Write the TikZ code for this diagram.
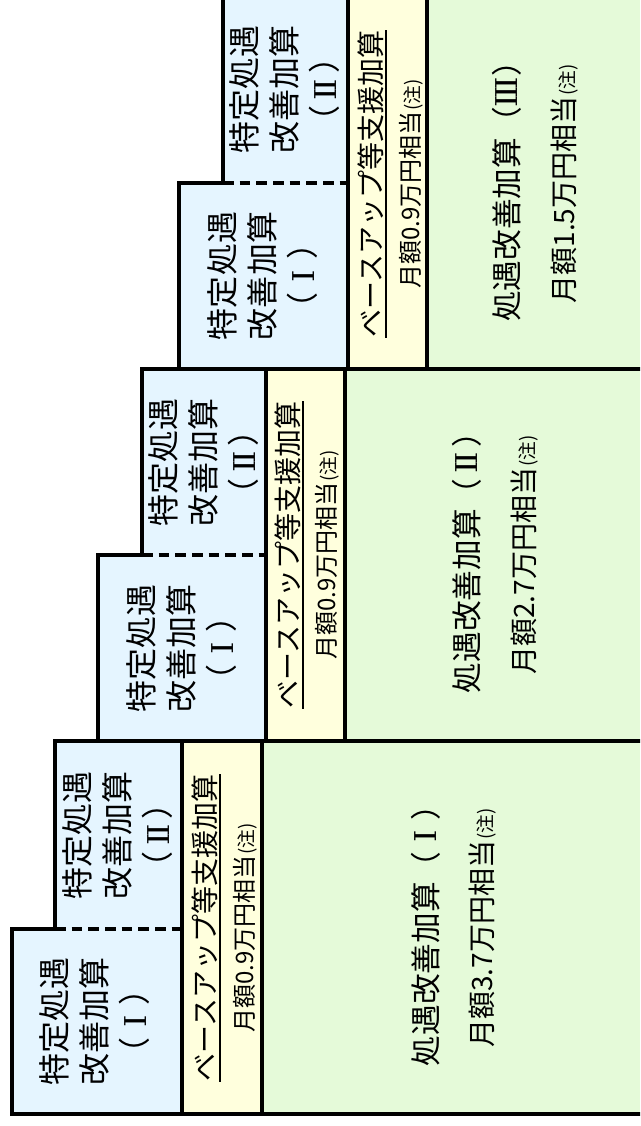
\documentclass[tikz,border=0pt]{standalone}
\usepackage{fontspec}
\usepackage{graphicx}
\newfontfamily\jp{Noto Sans CJK JP}
\definecolor{bluefill}{RGB}{229,245,255}
\definecolor{yellowfill}{RGB}{255,255,221}
\definecolor{greenfill}{RGB}{229,250,217}
\newcommand\chunote{{\fontsize{14pt}{14pt}\selectfont\kern0.05em(注)}}
\newcommand\rnum[1]{\makebox[1em][c]{\raisebox{0.6pt}{\scalebox{0.78}[1]{\rmfamily\bfseries\fontsize{24pt}{24pt}\selectfont #1}}}}
\newcommand\rnI{\rnum{I}}
\newcommand\rnII{\rnum{I\kern-0.05em I}}
\newcommand\rnIII{\rnum{I\kern-0.05em I\kern-0.05em I}}
\tikzset{
  frame/.style={line width=3pt, line join=miter},
  dashsep/.style={line width=3pt, dash pattern=on 8pt off 4.5pt},
  spectext/.style={rotate=90, align=center, inner sep=0pt, font=\jp\fontsize{24pt}{30pt}\selectfont},
  basetitle/.style={rotate=90, inner sep=0pt, font=\jp\fontsize{21pt}{21pt}\selectfont},
  baseamount/.style={rotate=90, inner sep=0pt, font=\jp\fontsize{18pt}{18pt}\selectfont},
  shogutitle/.style={rotate=90, inner sep=0pt, font=\jp\fontsize{23pt}{23pt}\selectfont},
  shoguamount/.style={rotate=90, inner sep=0pt, font=\jp\fontsize{21pt}{21pt}\selectfont},
  uline/.style={line width=1.5pt},
}
\begin{document}
\begin{tikzpicture}[x=0.75pt,y=-0.75pt]
\fill[white] (0,0) rectangle (640,1126);
\clip (0,0) rectangle (640,1126);
% ---------- band 1 (bottom) ----------
\fill[bluefill] (55,741) -- (182,741) -- (182,1114) -- (12,1114) -- (12,929) -- (55,929) -- cycle;
\fill[yellowfill] (182,741) rectangle (262,1114);
\fill[greenfill] (262,741) rectangle (640,1114);
% ---------- band 2 ----------
\fill[bluefill] (142,369) -- (266,369) -- (266,741) -- (98,741) -- (98,555) -- (142,555) -- cycle;
\fill[yellowfill] (266,369) rectangle (345,741);
\fill[greenfill] (345,369) rectangle (640,741);
% ---------- band 3 (top) ----------
\fill[bluefill] (223,-10) -- (348,-10) -- (348,369) -- (179,369) -- (179,183) -- (223,183) -- cycle;
\fill[yellowfill] (348,-10) rectangle (427,369);
\fill[greenfill] (427,-10) rectangle (640,369);
% ---------- lines ----------
\draw[frame] (645,741) -- (55,741) -- (55,929) -- (12,929) -- (12,1114) -- (645,1114);
\draw[frame] (182,741) -- (182,1114);
\draw[frame] (262,741) -- (262,1114);
\draw[dashsep] (55,929) -- (180,929);
\draw[frame] (645,369) -- (142,369) -- (142,555) -- (98,555) -- (98,741);
\draw[frame] (266,369) -- (266,741);
\draw[frame] (345,369) -- (345,741);
\draw[dashsep] (142,555) -- (264,555);
\draw[frame] (223,-10) -- (223,183) -- (179,183) -- (179,369);
\draw[frame] (348,-10) -- (348,369);
\draw[frame] (427,-10) -- (427,369);
\draw[dashsep] (223,183) -- (346,183);
% ---------- texts band 1 ----------
\node[spectext] (s1a) at (95,1021) {特定処遇\\改善加算\\（\rnI）};
\node[spectext] (s1b) at (118,835) {特定処遇\\改善加算\\（\rnII）};
\node[basetitle] (b1t) at (205,928) {ベースアップ等支援加算};
\draw[uline] ([xshift=1.5pt]b1t.south west) -- ([xshift=1.5pt]b1t.south east);
\node[baseamount] (b1a) at (245,928) {月額0.9万円相当\chunote};
\node[shogutitle] (g1t) at (426,928) {処遇改善加算（\rnI）};
\node[shoguamount] (g1a) at (483,928) {月額3.7万円相当\chunote};
% ---------- texts band 2 ----------
\node[spectext] (s2a) at (182,648) {特定処遇\\改善加算\\（\rnI）};
\node[spectext] (s2b) at (204,462) {特定処遇\\改善加算\\（\rnII）};
\node[basetitle] (b2t) at (288,555) {ベースアップ等支援加算};
\draw[uline] ([xshift=1.5pt]b2t.south west) -- ([xshift=1.5pt]b2t.south east);
\node[baseamount] (b2a) at (327,555) {月額0.9万円相当\chunote};
\node[shogutitle] (g2t) at (467,555) {処遇改善加算（\rnII）};
\node[shoguamount] (g2a) at (525,555) {月額2.7万円相当\chunote};
% ---------- texts band 3 ----------
\node[spectext] (s3a) at (263,276) {特定処遇\\改善加算\\（\rnI）};
\node[spectext] (s3b) at (285,90) {特定処遇\\改善加算\\（\rnII）};
\node[basetitle] (b3t) at (371,184) {ベースアップ等支援加算};
\draw[uline] ([xshift=1.5pt]b3t.south west) -- ([xshift=1.5pt]b3t.south east);
\node[baseamount] (b3a) at (411,184) {月額0.9万円相当\chunote};
\node[shogutitle] (g3t) at (507,184) {処遇改善加算（\rnIII）};
\node[shoguamount] (g3a) at (565,184) {月額1.5万円相当\chunote};
\end{tikzpicture}
\end{document}
